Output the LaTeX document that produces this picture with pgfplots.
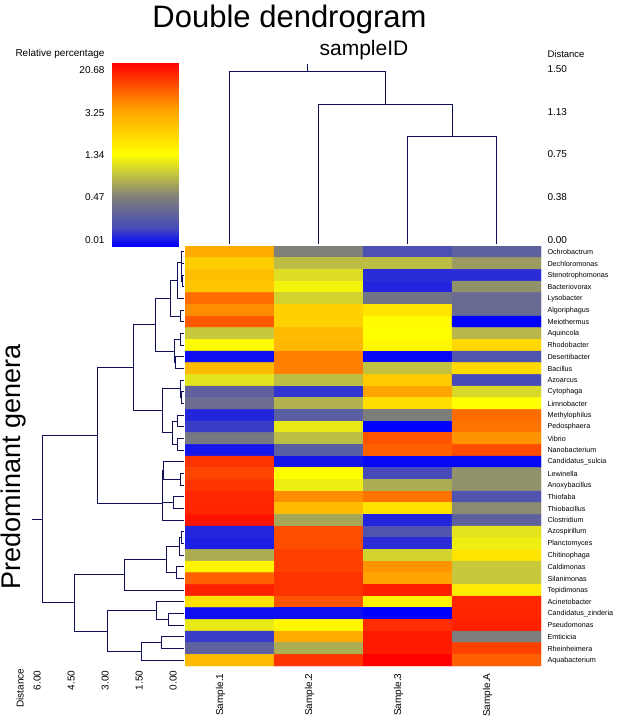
\documentclass[border=0pt]{standalone}
\usepackage{fontspec}
\setmainfont{Liberation Sans}
\usepackage{pgfplots}
\pgfplotsset{compat=1.18}
\usepgfplotslibrary{colormaps}
\definecolor{dendro}{RGB}{15,15,90}
\pgfplotsset{colormap={heat}{rgb255(0pt)=(0,0,255); rgb255(10pt)=(70,75,185); rgb255(27pt)=(128,128,120); rgb255(40pt)=(200,200,60); rgb255(50pt)=(255,255,0); rgb255(75pt)=(255,160,0); rgb255(100pt)=(255,0,0)}}
\tikzset{dline/.style={draw=dendro, line width=0.9pt, line join=miter, mark=none}}
\newcommand{\hlink}[5]{\addplot[dline] coordinates {(#1,#2) (#3,#2) (#3,#4) (#5,#4)};}
\newcommand{\vlink}[5]{\addplot[dline] coordinates {(#1,#2) (#1,#3) (#4,#3) (#4,#5)};}
\pgfplotstableread{
x y c
0 1 0.72
1 1 0.27
2 1 0.12
3 1 0.17
0 2 0.63
1 2 0.38
2 2 0.38
3 2 0.32
0 3 0.67
1 3 0.44
2 3 0.06
3 3 0.06
0 4 0.65
1 4 0.48
2 4 0.05
3 4 0.30
0 5 0.83
1 5 0.42
2 5 0.23
3 5 0.20
0 6 0.78
1 6 0.62
2 6 0.57
3 6 0.20
0 7 0.86
1 7 0.62
2 7 0.51
3 7 0.00
0 8 0.40
1 8 0.68
2 8 0.50
3 8 0.37
0 9 0.51
1 9 0.69
2 9 0.52
3 9 0.60
0 10 0.02
1 10 0.80
2 10 0.01
3 10 0.13
0 11 0.68
1 11 0.80
2 11 0.39
3 11 0.60
0 12 0.45
1 12 0.38
2 12 0.64
3 12 0.10
0 13 0.17
1 13 0.07
2 13 0.74
3 13 0.43
0 14 0.21
1 14 0.36
2 14 0.59
3 14 0.50
0 15 0.05
1 15 0.16
2 15 0.26
3 15 0.83
0 16 0.08
1 16 0.46
2 16 0.00
3 16 0.82
0 17 0.24
1 17 0.38
2 17 0.87
3 17 0.77
0 18 0.03
1 18 0.16
2 18 0.85
3 18 0.88
0 19 0.92
1 19 0.03
2 19 0.01
3 19 0.01
0 20 0.89
1 20 0.50
2 20 0.10
3 20 0.30
0 21 0.92
1 21 0.47
2 21 0.35
3 21 0.30
0 22 0.94
1 22 0.78
2 22 0.82
3 22 0.13
0 23 0.94
1 23 0.68
2 23 0.58
3 23 0.29
0 24 0.97
1 24 0.34
2 24 0.05
3 24 0.17
0 25 0.05
1 25 0.88
2 25 0.13
3 25 0.45
0 26 0.04
1 26 0.88
2 26 0.06
3 26 0.47
0 27 0.35
1 27 0.90
2 27 0.42
3 27 0.57
0 28 0.53
1 28 0.90
2 28 0.77
3 28 0.40
0 29 0.85
1 29 0.92
2 29 0.74
3 29 0.40
0 30 0.95
1 30 0.92
2 30 0.95
3 30 0.55
0 31 0.58
1 31 0.87
2 31 0.53
3 31 0.94
0 32 0.02
1 32 0.02
2 32 0.00
3 32 0.94
0 33 0.46
1 33 0.52
2 33 0.93
3 33 0.95
0 34 0.08
1 34 0.72
2 34 0.96
3 34 0.26
0 35 0.17
1 35 0.35
2 35 0.96
3 35 0.90
0 36 0.68
1 36 0.92
2 36 1.00
3 36 0.85
}\heatdata
\begin{document}
\begin{tikzpicture}
\useasboundingbox (0pt,0pt) rectangle (618pt,-726pt);
% colour key
\begin{axis}[
  at={(112pt,-246pt)}, anchor=south west,
  width=66pt, height=183pt, scale only axis,
  xmin=0, xmax=1, ymin=0, ymax=1,
  axis line style={draw=none}, major tick length=0pt, xtick=\empty,
  ytick={0.033,0.268,0.497,0.727,0.962},
  yticklabels={0.01,0.47,1.34,3.25,20.68},
  yticklabel shift=4pt,
  yticklabel style={font=\fontsize{10}{12}\selectfont},
  colormap name=heat, point meta min=0, point meta max=1,
]
\addplot[surf, shader=interp, mesh/cols=2, point meta=y] coordinates {(0,0) (1,0) (0,1) (1,1)};
\end{axis}
% heatmap
\begin{axis}[
  at={(185pt,-246pt)}, anchor=north west,
  width=356pt, height=420pt, scale only axis,
  xmin=-0.5, xmax=3.5, ymin=0.5, ymax=36.5, y dir=reverse,
  axis line style={draw=none}, major tick length=0pt,
  xtick={0,1,2,3}, xticklabels={Sample.1,Sample.2,Sample.3,Sample.A},
  xticklabel style={xshift=-9pt, rotate=90, anchor=east, font=\fontsize{10}{12}\selectfont},
  ytick={1,...,36},
  yticklabels={Ochrobactrum,Dechloromonas,Stenotrophomonas,Bacteriovorax,Lysobacter,Algoriphagus,Meiothermus,Aquincola,Rhodobacter,Desertibacter,Bacillus,Azoarcus,Cytophaga,Limnobacter,Methylophilus,Pedosphaera,Vibrio,Nanobacterium,Candidatus\_sulcia,Lewinella,Anoxybacillus,Thiofaba,Thiobacillus,Clostridium,Azospirillum,Planctomyces,Chitinophaga,Caldimonas,Silanimonas,Tepidimonas,Acinetobacter,Candidatus\_zinderia,Pseudomonas,Emticicia,Rheinheimera,Aquabacterium},
  yticklabel pos=right,
  yticklabel style={font=\fontsize{7.2}{8}\selectfont},
  xticklabel shift=4pt, yticklabel shift=3pt,
  colormap name=heat, point meta min=0, point meta max=1,
]
\addplot[matrix plot*, mesh/cols=4, point meta=explicit] table[x=x, y=y, meta=c] {\heatdata};
\end{axis}
% top dendrogram
\begin{axis}[
  at={(185pt,-244pt)}, anchor=south west,
  width=356pt, height=180pt, scale only axis,
  xmin=-0.5, xmax=3.5, ymin=0, ymax=1.579,
  axis line style={draw=none}, major tick length=0pt, xtick=\empty,
  ytick={0,0.375,0.75,1.125,1.5}, yticklabels={0.00,0.38,0.75,1.13,1.50},
  yticklabel pos=right, yticklabel style={yshift=4pt, font=\fontsize{10}{12}\selectfont},
  yticklabel shift=3pt, clip=false,
]
\vlink{2}{0}{0.94}{3}{0}
\vlink{1}{0}{1.22}{2.5}{0.94}
\vlink{0}{0}{1.51}{1.75}{1.22}
\addplot[dline] coordinates {(0.875,1.51) (0.875,1.58)};
\end{axis}
% left dendrogram
\begin{axis}[
  at={(183.6pt,-246pt)}, anchor=north east,
  width=158.6pt, height=420pt, scale only axis,
  x dir=reverse, xmin=0, xmax=7.0, ymin=0.5, ymax=36.5, y dir=reverse,
  axis line style={draw=none}, major tick length=0pt, ytick=\empty,
  xtick={0,1.5,3,4.5,6}, xticklabels={0.00,1.50,3.00,4.50,6.00},
  xticklabel style={xshift=-10.5pt, rotate=90, anchor=east, font=\fontsize{10}{12}\selectfont},
  xticklabel shift=1pt, clip=false,
]
\hlink{0}{3}{0.07}{4}{0}
\hlink{0}{2}{0.09}{3.5}{0.07}
\hlink{0}{1}{0.11}{2.75}{0.09}
\hlink{0.11}{1.875}{0.28}{5}{0}
\hlink{0}{6}{0.16}{7}{0}
\hlink{0.28}{3.4375}{0.6}{6.5}{0.16}
\hlink{0}{8}{0.16}{9}{0}
\hlink{0}{10}{0.35}{11}{0}
\hlink{0.16}{8.5}{0.42}{10.5}{0.35}
\hlink{0.6}{4.96875}{1.23}{9.5}{0.42}
\hlink{0}{13}{0.08}{14}{0}
\hlink{0}{12}{0.16}{13.5}{0.08}
\hlink{0}{15}{0.28}{16}{0}
\hlink{0}{17}{0.27}{18}{0}
\hlink{0.28}{15.5}{0.48}{17.5}{0.27}
\hlink{0.16}{12.75}{0.94}{16.5}{0.48}
\hlink{1.23}{7.234}{2.22}{14.625}{0.94}
\hlink{0}{20}{0.16}{21}{0}
\hlink{0}{19}{0.91}{20.5}{0.16}
\hlink{0}{22}{0.45}{23}{0}
\hlink{0.91}{19.75}{0.92}{22.5}{0.45}
\hlink{0.92}{21.125}{0.94}{24}{0}
\hlink{2.22}{10.93}{3.82}{22.5625}{0.94}
\hlink{0}{25}{0.08}{26}{0}
\hlink{0.08}{25.5}{0.2}{27}{0}
\hlink{0}{28}{0.32}{29}{0}
\hlink{0.2}{26.25}{0.76}{28.5}{0.32}
\hlink{0.76}{27.375}{2.62}{30}{0}
\hlink{0}{32}{0.66}{33}{0}
\hlink{0}{31}{1.2}{32.5}{0.66}
\hlink{0}{34}{0.98}{35}{0}
\hlink{0.98}{34.5}{1.85}{36}{0}
\hlink{1.2}{31.75}{3.37}{35.25}{1.85}
\hlink{2.62}{28.6875}{4.83}{33.5}{3.37}
\hlink{3.82}{16.746}{6.23}{31.094}{4.83}
\addplot[dline] coordinates {(6.23,23.92) (6.70,23.92)};
\end{axis}
\node[anchor=base, font=\fontsize{31}{36}\selectfont] at (289.5pt,-27pt) {Double dendrogram};
\node[anchor=base, font=\fontsize{21}{24}\selectfont] at (364pt,-55pt) {sampleID};
\node[anchor=base, rotate=90, font=\fontsize{27}{30}\selectfont] at (20pt,-467pt) {Predominant genera};
\node[anchor=east, font=\fontsize{10}{12}\selectfont] at (108pt,-54pt) {Relative percentage};
\node[anchor=west, font=\fontsize{9.5}{11}\selectfont] at (544pt,-54pt) {Distance};
\node[rotate=90, font=\fontsize{10}{12}\selectfont] at (20pt,-688pt) {Distance};
\end{tikzpicture}
\end{document}
